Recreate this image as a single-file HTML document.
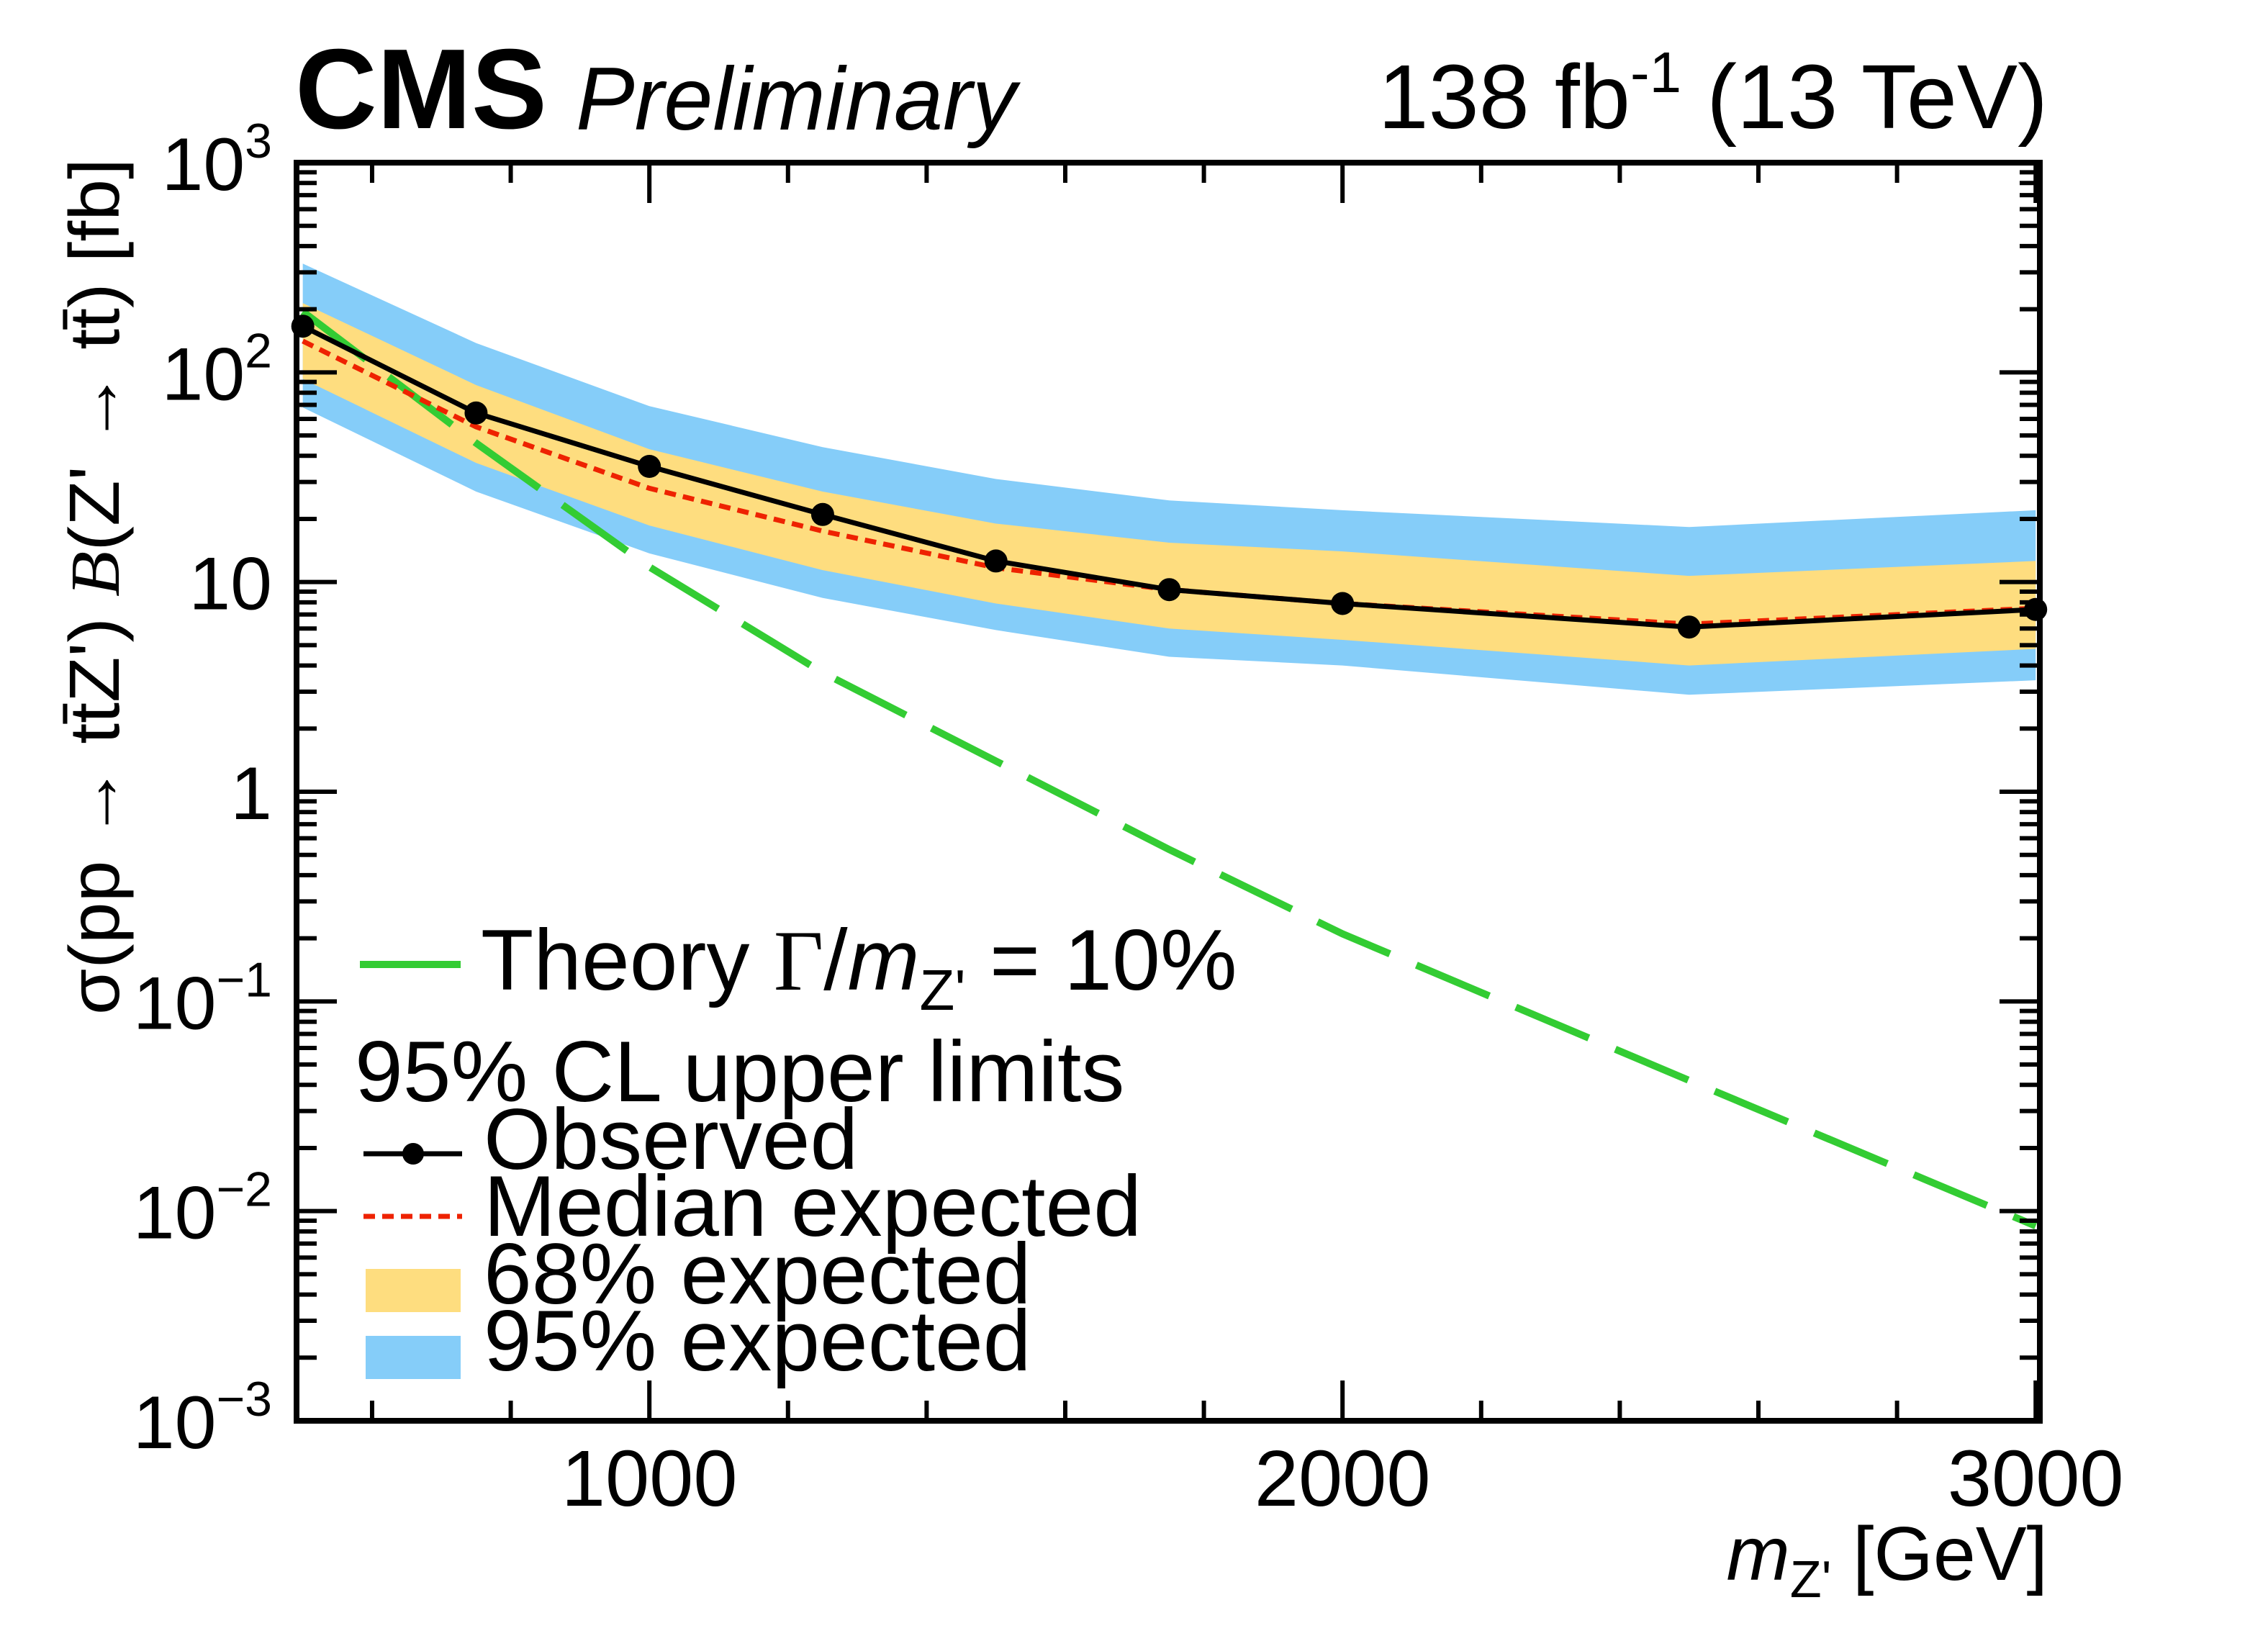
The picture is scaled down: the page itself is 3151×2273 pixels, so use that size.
<!DOCTYPE html>
<html><head><meta charset="utf-8"><style>
html,body{margin:0;padding:0;background:#fff;}
svg{display:block;font-family:"Liberation Sans",sans-serif;}
</style></head><body>
<svg id="chart" width="3151" height="2273" viewBox="0 0 3151 2273" xmlns="http://www.w3.org/2000/svg">
<rect x="0" y="0" width="3151" height="2273" fill="#fff"/>
<g id="bands"></g>
<g id="lines"></g>
<g id="axes"></g>
<text x="410" y="178" font-size="158" font-weight="bold" textLength="350" lengthAdjust="spacingAndGlyphs">CMS</text>
<text x="800" y="180" font-size="124" font-style="italic" textLength="612" lengthAdjust="spacingAndGlyphs">Preliminary</text>
<text x="2845" y="178" font-size="126" text-anchor="end">138 fb<tspan dy="-50" font-size="80">-1</tspan><tspan dy="50"> (13 TeV)</tspan></text>
<text x="2845" y="2195" font-size="106" text-anchor="end"><tspan font-style="italic">m</tspan><tspan dy="24" font-size="72">Z'</tspan><tspan dy="-24"> [GeV]</tspan></text>
<text transform="translate(165,815) rotate(-90)" font-size="98" text-anchor="middle" textLength="1190" lengthAdjust="spacingAndGlyphs">σ(pp → tt̄Z') <tspan font-family="Liberation Serif" font-style="italic">B</tspan>(Z' → tt̄) [fb]</text>
<g>
<line x1="500" y1="1340" x2="640" y2="1340" stroke="#33cc33" stroke-width="10"/>
<text x="668" y="1375" font-size="120">Theory <tspan font-family="Liberation Serif">Γ</tspan>/<tspan font-style="italic">m</tspan><tspan dy="28" font-size="80">Z'</tspan><tspan dy="-28"> = 10%</tspan></text>
<text x="493" y="1530" font-size="120">95% CL upper limits</text>
<line x1="505" y1="1603" x2="642" y2="1603" stroke="#000" stroke-width="7"/>
<circle cx="574" cy="1603" r="15" fill="#000"/>
<text x="672" y="1624" font-size="120">Observed</text>
<line x1="505" y1="1690" x2="642" y2="1690" stroke="#ee2200" stroke-width="7" stroke-dasharray="16,10"/>
<text x="672" y="1717" font-size="120">Median expected</text>
<rect x="508" y="1763" width="132" height="60" fill="#fedd7f"/>
<text x="672" y="1811" font-size="120">68% expected</text>
<rect x="508" y="1856" width="132" height="60" fill="#85cdf9"/>
<text x="672" y="1904" font-size="120">95% expected</text>
</g>
</svg>
<script>
const masses = [500, 750, 1000, 1250, 1500, 1750, 2000, 2500, 3000];
const observed = [166, 64, 35.6, 21, 12.6, 9.2, 7.9, 6.1, 7.4];
const expected = [141, 55, 28, 17.5, 11.7, 9.2, 7.9, 6.3, 7.5];
const up68 = [214, 87, 43, 27, 19, 15.4, 14, 10.7, 12.6];
const lo68 = [93, 37, 18.6, 11.4, 7.9, 6.0, 5.3, 4.0, 4.8];
const up95 = [330, 138, 69, 44, 31, 24.5, 22, 18.3, 22];
const lo95 = [68, 27, 13.7, 8.4, 5.9, 4.4, 4.0, 2.9, 3.4];
const theory = [195, 46, 11.8, 3.7, 1.4, 0.53, 0.21, 0.042, 0.0085];
const xTickLabels = ['1000', '2000', '3000'];
const xTickValues = [1000, 2000, 3000];
const yTickExps = [3, 2, 1, 0, -1, -2, -3];

const L = 412, R = 2834, T = 226, B = 1974;
const xMin = 491, xMax = 3006, yMinE = -3, yMaxE = 3;
function xs(v) { return L + (v - xMin) / (xMax - xMin) * (R - L); }
function ys(v) { return B - (Math.log10(v) - yMinE) / (yMaxE - yMinE) * (B - T); }
const NS = 'http://www.w3.org/2000/svg';
function mk(tag, parent, attrs) { const e = document.createElementNS(NS, tag); for (const k in attrs) e.setAttribute(k, attrs[k]); parent.appendChild(e); return e; }

const bands = document.getElementById('bands');
function band(up, lo, color, name) {
  let pts = masses.map((m, i) => xs(m) + ',' + ys(up[i]));
  pts = pts.concat(masses.map((m, i) => xs(m) + ',' + ys(lo[i])).reverse());
  const p = mk('polygon', bands, { points: pts.join(' '), fill: color });
  
  
}
band(up95, lo95, '#85cdf9', 'band-95');
band(up68, lo68, '#fedd7f', 'band-68');

const lines = document.getElementById('lines');
function pl(vals, attrs, name) {
  const p = mk('polyline', lines, Object.assign({ points: masses.map((m, i) => xs(m) + ',' + ys(vals[i])).join(' '), fill: 'none' }, attrs));
  
  
}
pl(theory, { stroke: '#33cc33', 'stroke-width': 10, 'stroke-dasharray': '110,40' }, 'theory-line');
pl(expected, { stroke: '#ee2200', 'stroke-width': 7, 'stroke-dasharray': '16,10' }, 'expected-line');
pl(observed, { stroke: '#000', 'stroke-width': 7 }, 'observed-line');
masses.forEach((m, i) => {
  const c = mk('circle', lines, { cx: xs(m), cy: ys(observed[i]), r: 16, fill: '#000' });
  
  
});

const axes = document.getElementById('axes');
const fr = mk('rect', axes, { x: L, y: T, width: R - L, height: B - T, fill: 'none', stroke: '#000', 'stroke-width': 8 });


for (let v = 600; v <= 3000; v += 200) {
  const len = (v % 1000 === 0) ? 56 : 28;
  const x = xs(v);
  mk('line', axes, { x1: x, y1: B, x2: x, y2: B - len, stroke: '#000', 'stroke-width': 6 });
  mk('line', axes, { x1: x, y1: T, x2: x, y2: T + len, stroke: '#000', 'stroke-width': 6 });
}
xTickValues.forEach((v, i) => {
  const t = mk('text', axes, { x: xs(v), y: 2092, 'font-size': 110, 'text-anchor': 'middle' });
  t.textContent = xTickLabels[i];
  
  
});
for (let e = -3; e < 3; e++) {
  for (let k = 1; k <= 9; k++) {
    const v = k * Math.pow(10, e);
    const y = ys(v);
    const len = k === 1 ? 56 : 28;
    mk('line', axes, { x1: L, y1: y, x2: L + len, y2: y, stroke: '#000', 'stroke-width': 6 });
    mk('line', axes, { x1: R, y1: y, x2: R - len, y2: y, stroke: '#000', 'stroke-width': 6 });
  }
}
yTickExps.forEach(e => {
  const t = mk('text', axes, { x: 378, y: ys(Math.pow(10, e)) + 38, 'font-size': 104, 'text-anchor': 'end' });
  if (e === 0) t.textContent = '1';
  else if (e === 1) t.textContent = '10';
  else {
    t.textContent = '10';
    const s = mk('tspan', t, { dy: -45, 'font-size': 68 });
    s.textContent = e < 0 ? '\u2212' + (-e) : String(e);
  }
  
  
});
</script>
</body></html>
